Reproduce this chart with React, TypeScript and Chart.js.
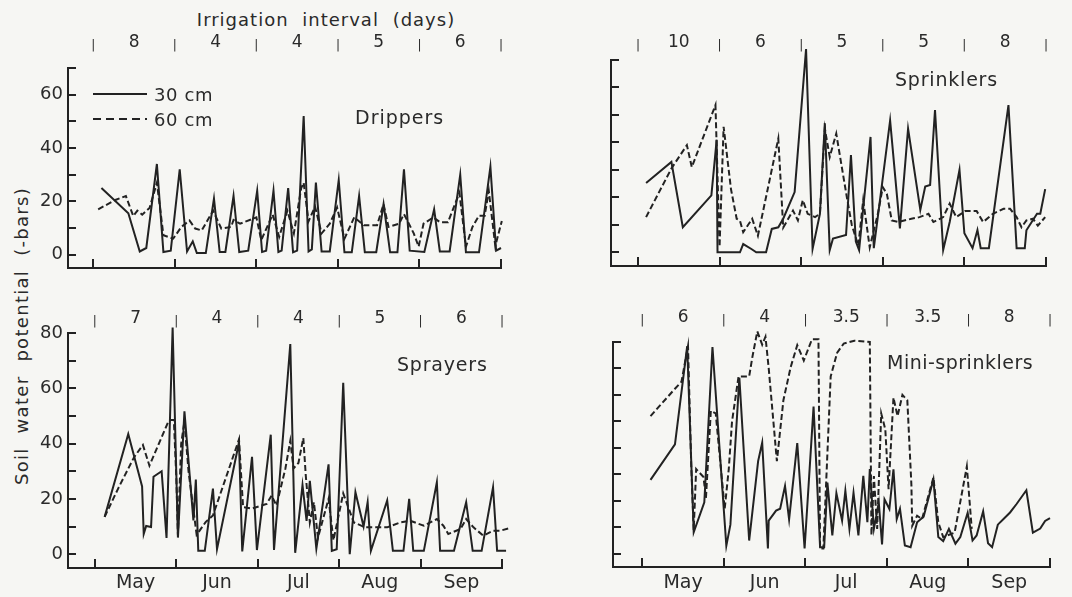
import React, { useEffect, useRef } from 'react';
import { Chart, registerables } from 'chart.js';

Chart.register(...registerables);

const FONT = '"DejaVu Sans", "Liberation Sans", sans-serif';
const INK = '#222222';
const TEXT = '#2a2a2a';
const PAPER = '#f6f6f3';

type Pt = [number, number];

// x values are in months from 1 May (0 = May 1, 1 = Jun 1, ... 5 = Oct 1)
const monthNames = ['May', 'Jun', 'Jul', 'Aug', 'Sep'];
const monthTicks = [0, 0.5, 1, 1.5, 2, 2.5, 3, 3.5, 4, 4.5, 5];

const intervalsDrippers = ['8', '4', '4', '5', '6'];
const intervalsSprinklers = ['10', '6', '5', '5', '8'];
const intervalsSprayers = ['7', '4', '4', '5', '6'];
const intervalsMini = ['6', '4', '3.5', '3.5', '8'];

const drippers30: Pt[] = [
  [0.10, 25], [0.43, 15.5], [0.57, 1.2], [0.65, 2.5], [0.78, 34], [0.86, 1], [0.95, 1.5],
  [1.06, 32], [1.15, 1.2], [1.22, 5], [1.27, 0.6], [1.38, 0.6], [1.48, 21], [1.55, 1],
  [1.62, 1], [1.72, 22], [1.79, 1], [1.9, 1.5], [2.01, 24], [2.07, 1], [2.12, 1.5],
  [2.21, 24], [2.27, 1], [2.31, 1.5], [2.39, 25], [2.45, 0.9], [2.5, 1.5], [2.58, 52],
  [2.64, 1.2], [2.68, 2], [2.73, 27], [2.8, 1.2], [2.9, 1.2], [3.01, 28], [3.08, 0.9],
  [3.17, 0.9], [3.26, 22], [3.33, 0.9], [3.47, 0.9], [3.56, 19], [3.64, 0.9], [3.73, 0.9],
  [3.81, 32], [3.88, 1.5], [4.06, 1], [4.18, 17], [4.25, 1.2], [4.37, 1.2], [4.5, 30],
  [4.57, 0.9], [4.73, 0.9], [4.87, 33], [4.94, 1.5], [5.0, 2.5],
];
const drippers60: Pt[] = [
  [0.06, 17], [0.27, 20.5], [0.40, 22], [0.49, 14.5], [0.54, 16.5], [0.6, 15], [0.69, 17.5],
  [0.78, 27], [0.86, 7.3], [0.98, 6], [1.08, 10.4], [1.18, 12.8], [1.25, 9.8], [1.33, 9.1],
  [1.47, 16.5], [1.57, 9.8], [1.69, 10.4], [1.72, 13], [1.8, 11.6], [2.0, 14], [2.06, 5.5],
  [2.2, 15], [2.28, 6.7], [2.38, 16.5], [2.46, 8], [2.55, 25], [2.58, 27], [2.64, 12.5],
  [2.72, 18], [2.8, 8], [2.9, 11.6], [2.99, 17.7], [3.08, 6], [3.2, 14], [3.32, 11],
  [3.48, 11], [3.56, 18.9], [3.62, 10.4], [3.75, 11.6], [3.81, 15.2], [3.93, 8], [3.99, 3],
  [4.05, 11.6], [4.17, 14], [4.25, 12.2], [4.35, 12.2], [4.49, 23.2], [4.57, 3], [4.65, 10.4],
  [4.73, 14.6], [4.8, 14.6], [4.85, 24], [4.93, 3.3], [5.01, 12.6],
];

const sprinklers30: Pt[] = [
  [0.10, 25.2], [0.41, 32.9], [0.55, 9.1], [0.90, 20.7], [0.965, 41], [0.975, 0], [1.25, 0],
  [1.29, 3], [1.39, 1.2], [1.45, 0], [1.57, 0], [1.64, 8.5], [1.72, 9.1], [1.78, 12.2],
  [1.92, 21.9], [2.06, 74], [2.14, 1.2], [2.23, 14], [2.29, 47], [2.35, 0.8], [2.39, 5],
  [2.55, 6.3], [2.61, 35.4], [2.67, 3.9], [2.71, 0.8], [2.77, 19], [2.85, 42], [2.89, 1.5],
  [2.97, 20], [3.09, 48], [3.21, 8.7], [3.31, 45], [3.46, 15.4], [3.52, 23.9], [3.58, 24.5],
  [3.64, 51.8], [3.74, 0.8], [3.82, 11], [3.94, 30], [4.0, 6.9], [4.10, 1.5], [4.16, 8.1],
  [4.2, 1.5], [4.3, 1.5], [4.54, 53.6], [4.64, 1.5], [4.74, 1.5], [4.76, 8], [4.89, 14],
  [4.93, 14], [4.99, 23],
];
const sprinklers60: Pt[] = [
  [0.10, 12.8], [0.41, 30.5], [0.60, 39], [0.66, 31], [0.95, 53.6], [1.0, 2], [1.05, 45.7],
  [1.14, 23], [1.21, 12.2], [1.25, 11.5], [1.29, 7.3], [1.40, 12.2], [1.47, 6], [1.72, 41.4],
  [1.78, 9], [1.90, 15.2], [1.96, 11.6], [2.02, 19], [2.08, 14], [2.17, 12.8], [2.23, 14],
  [2.29, 45], [2.35, 34.7], [2.43, 43.2], [2.47, 36], [2.56, 20], [2.62, 10], [2.70, 2.4],
  [2.76, 18.9], [2.84, 1.8], [2.94, 14], [3.0, 23.7], [3.05, 21.3], [3.11, 11.6], [3.19, 11],
  [3.35, 12.2], [3.45, 12.8], [3.56, 14], [3.62, 11], [3.74, 12.8], [3.82, 17.7], [3.90, 12.8],
  [4.01, 15], [4.15, 15], [4.23, 11], [4.35, 14], [4.48, 15.8], [4.56, 15.8], [4.64, 12.8],
  [4.70, 9.1], [4.76, 11.6], [4.84, 12.2], [4.90, 9.7], [4.99, 12.8],
];

const sprayers30: Pt[] = [
  [0.12, 13.5], [0.41, 43.5], [0.58, 24.5], [0.60, 7.3], [0.63, 10.2], [0.69, 9.8], [0.72, 28],
  [0.82, 30], [0.88, 5.9], [0.955, 82], [1.02, 6], [1.10, 51.7], [1.21, 12.2], [1.24, 27],
  [1.27, 1.2], [1.35, 1.2], [1.45, 23.7], [1.5, 1.8], [1.77, 40.5], [1.81, 1], [1.93, 35.2],
  [1.99, 1.5], [2.16, 43.2], [2.2, 1.5], [2.40, 76], [2.46, 0.5], [2.55, 25], [2.60, 12],
  [2.64, 26.5], [2.72, 2], [2.87, 32.5], [2.91, 1.2], [2.97, 1.8], [3.05, 62], [3.13, 0],
  [3.2, 22.4], [3.3, 10], [3.35, 18.8], [3.39, 1.2], [3.59, 19.4], [3.66, 1.2], [3.79, 1.2],
  [3.86, 20], [3.91, 1.2], [4.04, 1.2], [4.20, 26], [4.24, 1.2], [4.41, 1.2], [4.56, 18.8],
  [4.64, 1.2], [4.75, 1.2], [4.89, 24.2], [4.94, 1.2], [5.05, 1.2],
];
const sprayers60: Pt[] = [
  [0.12, 13.5], [0.29, 24], [0.48, 35], [0.59, 39.5], [0.67, 32], [0.91, 48.5], [0.97, 48.5],
  [1.0, 28], [1.02, 7], [1.06, 40], [1.10, 48], [1.15, 30], [1.25, 7], [1.36, 11.6],
  [1.45, 14], [1.77, 41.5], [1.82, 17], [1.93, 16.5], [2.11, 18.2], [2.17, 21.2], [2.23, 17.6],
  [2.34, 31], [2.40, 41], [2.44, 31], [2.50, 33], [2.56, 42], [2.59, 28.5], [2.64, 11.5],
  [2.69, 18.8], [2.74, 6], [2.87, 20], [2.93, 5], [3.05, 22], [3.18, 11.5], [3.32, 9.7],
  [3.46, 9.7], [3.59, 9.7], [3.75, 11.5], [3.87, 12.1], [4.04, 10.3], [4.20, 12.7],
  [4.28, 10.3], [4.34, 7.3], [4.49, 9.1], [4.56, 12.7], [4.65, 9.7], [4.77, 6.7], [4.89, 8.5],
  [4.98, 8.5], [5.08, 9.3],
];

const mini30: Pt[] = [
  [0.10, 27.9], [0.40, 41.3], [0.55, 78.4], [0.63, 8.1], [0.76, 19.4], [0.86, 78.1], [1.03, 3],
  [1.08, 11], [1.19, 66.5], [1.31, 5], [1.42, 35], [1.47, 42], [1.54, 2], [1.55, 12.5],
  [1.64, 16.3], [1.69, 17], [1.75, 25.6], [1.80, 13], [1.90, 41.8], [1.99, 2], [2.10, 55.6],
  [2.18, 2.5], [2.23, 2.5], [2.27, 26.9], [2.33, 6.9], [2.38, 22.9], [2.45, 12.5], [2.49, 23.8],
  [2.54, 9.4], [2.59, 23], [2.65, 6.9], [2.71, 29.4], [2.76, 11.9], [2.79, 32], [2.84, 9.4],
  [2.9, 19.4], [2.94, 3.5], [2.97, 20.6], [3.03, 16.9], [3.08, 31.9], [3.12, 13.1], [3.16, 17],
  [3.22, 3.1], [3.29, 2.5], [3.37, 11.9], [3.45, 14], [3.57, 28.1], [3.63, 6.3], [3.69, 4.8],
  [3.76, 9.4], [3.84, 3.8], [3.90, 6.3], [3.99, 15.5], [4.05, 5], [4.10, 6.9], [4.18, 16],
  [4.24, 4], [4.29, 2.5], [4.36, 11], [4.43, 13.1], [4.51, 15.6], [4.59, 18.8], [4.71, 24],
  [4.79, 8], [4.88, 9.5], [4.94, 12.4], [5.0, 13.5], [5.1, 12], [5.2, 13], [5.26, 13],
];
const mini60: Pt[] = [
  [0.10, 52], [0.39, 62], [0.48, 65], [0.56, 78.5], [0.60, 33], [0.63, 9], [0.66, 32],
  [0.75, 29], [0.78, 21], [0.84, 54], [0.90, 53], [1.01, 17], [1.06, 32], [1.10, 50],
  [1.18, 67], [1.31, 67], [1.35, 74.4], [1.41, 84], [1.47, 79], [1.51, 82], [1.55, 70],
  [1.65, 35], [1.73, 58], [1.82, 70.6], [1.90, 78.8], [1.98, 73], [2.08, 81], [2.16, 81],
  [2.18, 2], [2.22, 2], [2.31, 67], [2.39, 76], [2.47, 79.4], [2.6, 80.5], [2.79, 80],
  [2.81, 7], [2.84, 29.4], [2.88, 9.4], [2.93, 53], [2.98, 47], [3.02, 24.4], [3.08, 59],
  [3.13, 52], [3.19, 60], [3.25, 58], [3.30, 26], [3.31, 10.6], [3.37, 14.4], [3.43, 13.1],
  [3.57, 28.8], [3.63, 11.9], [3.69, 6.3], [3.83, 8], [3.98, 33], [4.04, 9.4],
];

interface PanelCfg {
  key: string;
  left: number; top: number; width: number; height: number;
  area: { l: number; t: number; r: number; b: number };
  xMin: number; yMax: number;
  yLabels: boolean; months: boolean;
  intervals: string[]; intervalPad: number; monthPad: number;
  label: string; labelDx: number; labelDy: number; labelSpacing: number;
  legend: boolean;
  s30: Pt[]; s60: Pt[];
}

const panels: PanelCfg[] = [
  {
    key: 'drippers', left: 0, top: 30, width: 530, height: 265,
    area: { l: 68, t: 68, r: 501, b: 268 }, xMin: -0.31, yMax: 70,
    yLabels: true, months: false, intervals: intervalsDrippers, intervalPad: 15, monthPad: 4,
    label: 'Drippers', labelDx: 287, labelDy: 56, labelSpacing: 1, legend: true,
    s30: drippers30, s60: drippers60,
  },
  {
    key: 'sprinklers', left: 540, top: 30, width: 532, height: 265,
    area: { l: 611, t: 60, r: 1046, b: 266 }, xMin: -0.33, yMax: 70,
    yLabels: false, months: false, intervals: intervalsSprinklers, intervalPad: 7, monthPad: 4,
    label: 'Sprinklers', labelDx: 284, labelDy: 26, labelSpacing: 0.8, legend: false,
    s30: sprinklers30, s60: sprinklers60,
  },
  {
    key: 'sprayers', left: 0, top: 300, width: 530, height: 297,
    area: { l: 68, t: 333, r: 502, b: 568 }, xMin: -0.33, yMax: 80,
    yLabels: true, months: true, intervals: intervalsSprayers, intervalPad: 4, monthPad: 4,
    label: 'Sprayers', labelDx: 329, labelDy: 38, labelSpacing: 0.8, legend: false,
    s30: sprayers30, s60: sprayers60,
  },
  {
    key: 'mini', left: 540, top: 300, width: 532, height: 297,
    area: { l: 613, t: 342, r: 1050, b: 567 }, xMin: -0.36, yMax: 80,
    yLabels: false, months: true, intervals: intervalsMini, intervalPad: 14, monthPad: 5,
    label: 'Mini-sprinklers', labelDx: 274, labelDy: 27, labelSpacing: 0.5, legend: false,
    s30: mini30, s60: mini60,
  },
];

function PanelChart({ p }: { p: PanelCfg }) {
  const ref = useRef<HTMLCanvasElement | null>(null);

  useEffect(() => {
    const canvas = ref.current;
    if (!canvas) return;
    const yAxisW = p.area.l - p.left;
    const topH = p.area.t - p.top;
    const rightPad = p.left + p.width - p.area.r;
    const bottomH = p.top + p.height - p.area.b;
    const yTicks: number[] = [];
    for (let v = 0; v <= p.yMax; v += 10) yTicks.push(v);

    const deco = {
      id: 'deco' + p.key,
      afterDraw(chart: any) {
        const ctx = chart.ctx as CanvasRenderingContext2D;
        const a = chart.chartArea;
        const xs = chart.scales.x;
        const ys = chart.scales.y;
        ctx.save();
        ctx.strokeStyle = INK;
        ctx.lineWidth = 2;
        ctx.setLineDash([]);
        ctx.beginPath();
        yTicks.forEach((v) => {
          const py = Math.round(ys.getPixelForValue(v));
          ctx.moveTo(a.left, py);
          ctx.lineTo(a.left + 8, py);
        });
        for (let m = 0; m <= 5; m++) {
          const px = Math.round(xs.getPixelForValue(m));
          ctx.moveTo(px, a.bottom);
          ctx.lineTo(px, a.bottom - 9);
        }
        ctx.stroke();

        ctx.fillStyle = TEXT;
        ctx.font = `19px ${FONT}`;
        (ctx as any).letterSpacing = `${p.labelSpacing}px`;
        ctx.textAlign = 'left';
        ctx.textBaseline = 'alphabetic';
        ctx.fillText(p.label, a.left + p.labelDx, a.top + p.labelDy);

        if (p.legend) {
          ctx.font = `18px ${FONT}`;
          (ctx as any).letterSpacing = '0.6px';
          ctx.beginPath();
          ctx.moveTo(a.left + 25, a.top + 26);
          ctx.lineTo(a.left + 79, a.top + 26);
          ctx.stroke();
          ctx.setLineDash([8, 5]);
          ctx.beginPath();
          ctx.moveTo(a.left + 25, a.top + 51);
          ctx.lineTo(a.left + 79, a.top + 51);
          ctx.stroke();
          ctx.setLineDash([]);
          ctx.fillText('30 cm', a.left + 86, a.top + 33);
          ctx.fillText('60 cm', a.left + 86, a.top + 58);
        }
        ctx.restore();
      },
    };

    const toXY = (s: Pt[]) => s.map(([x, y]) => ({ x, y }));

    const chart = new Chart(canvas, {
      type: 'line',
      data: {
        datasets: [
          {
            label: '30 cm', data: toXY(p.s30), borderColor: INK, borderWidth: 2,
            pointRadius: 0, tension: 0, fill: false, clip: false as any,
            xAxisID: 'x', yAxisID: 'y',
          },
          {
            label: '60 cm', data: toXY(p.s60), borderColor: INK, borderWidth: 2,
            borderDash: [6, 3], pointRadius: 0, tension: 0, fill: false, clip: false as any,
            xAxisID: 'x', yAxisID: 'y',
          },
        ],
      },
      options: {
        responsive: false,
        maintainAspectRatio: false,
        animation: false,
        events: [],
        layout: { padding: { left: 0, top: 0, right: rightPad, bottom: 0 } },
        plugins: { legend: { display: false }, tooltip: { enabled: false } },
        scales: {
          x: {
            type: 'linear', axis: 'x', position: 'bottom', min: p.xMin, max: 5,
            afterBuildTicks: (s: any) => { s.ticks = monthTicks.map((v) => ({ value: v })); },
            afterFit: (s: any) => { s.height = bottomH; s.paddingLeft = 0; s.paddingRight = 0; },
            grid: { display: false, drawTicks: false },
            border: { display: true, color: INK, width: 2 },
            ticks: {
              autoSkip: false, maxRotation: 0, minRotation: 0, padding: p.monthPad,
              color: TEXT, font: { family: FONT, size: 19 },
              callback: (v: any) => {
                const n = Number(v);
                if (!p.months || Number.isInteger(n)) return '';
                return monthNames[Math.floor(n)] ?? '';
              },
            },
          },
          xTop: {
            type: 'linear', axis: 'x', position: 'top', min: p.xMin, max: 5,
            afterBuildTicks: (s: any) => { s.ticks = monthTicks.map((v) => ({ value: v })); },
            afterFit: (s: any) => { s.height = topH; s.paddingLeft = 0; s.paddingRight = 0; },
            grid: { display: false, drawTicks: false },
            border: { display: false },
            ticks: {
              autoSkip: false, maxRotation: 0, minRotation: 0, padding: p.intervalPad,
              color: TEXT,
              font: (ctx: any) => ({
                family: FONT,
                size: ctx.tick && Number.isInteger(ctx.tick.value) ? 12 : 17,
              }),
              callback: (v: any) => {
                const n = Number(v);
                if (Number.isInteger(n)) return '|';
                return p.intervals[Math.floor(n)] ?? '';
              },
            },
          },
          y: {
            type: 'linear', position: 'left', min: -5, max: p.yMax,
            afterBuildTicks: (s: any) => { s.ticks = yTicks.map((v) => ({ value: v })); },
            afterFit: (s: any) => { s.width = yAxisW; s.paddingTop = 0; s.paddingBottom = 0; },
            grid: { display: false, drawTicks: false },
            border: { display: true, color: INK, width: 2 },
            ticks: {
              autoSkip: false, padding: 5, color: TEXT, font: { family: FONT, size: 18 },
              callback: (v: any) => {
                const n = Number(v);
                return p.yLabels && n % 20 === 0 ? String(n) : '';
              },
            },
          },
        },
      } as any,
      plugins: [deco],
    });
    return () => chart.destroy();
  }, [p]);

  return (
    <canvas
      ref={ref}
      width={p.width}
      height={p.height}
      style={{ position: 'absolute', left: p.left, top: p.top, width: p.width, height: p.height }}
    />
  );
}

export default function App() {
  return (
    <div
      style={{
        position: 'absolute', left: 0, top: 0, width: 1072, height: 597,
        background: PAPER, overflow: 'hidden',
      }}
    >
      <div
        style={{
          position: 'absolute', left: 326, top: 11, transform: 'translateX(-50%)',
          whiteSpace: 'nowrap', fontFamily: FONT, fontSize: 18, lineHeight: '18px',
          letterSpacing: '1px', wordSpacing: '7px', color: TEXT,
        }}
      >
        Irrigation interval (days)
      </div>
      <div
        style={{
          position: 'absolute', left: 22, top: 336,
          transform: 'translate(-50%, -50%) rotate(-90deg)',
          whiteSpace: 'nowrap', fontFamily: FONT, fontSize: 18, lineHeight: '18px',
          letterSpacing: '1.3px', wordSpacing: '7px', color: TEXT,
        }}
      >
        Soil water potential (-bars)
      </div>
      {panels.map((p) => (
        <PanelChart key={p.key} p={p} />
      ))}
    </div>
  );
}
